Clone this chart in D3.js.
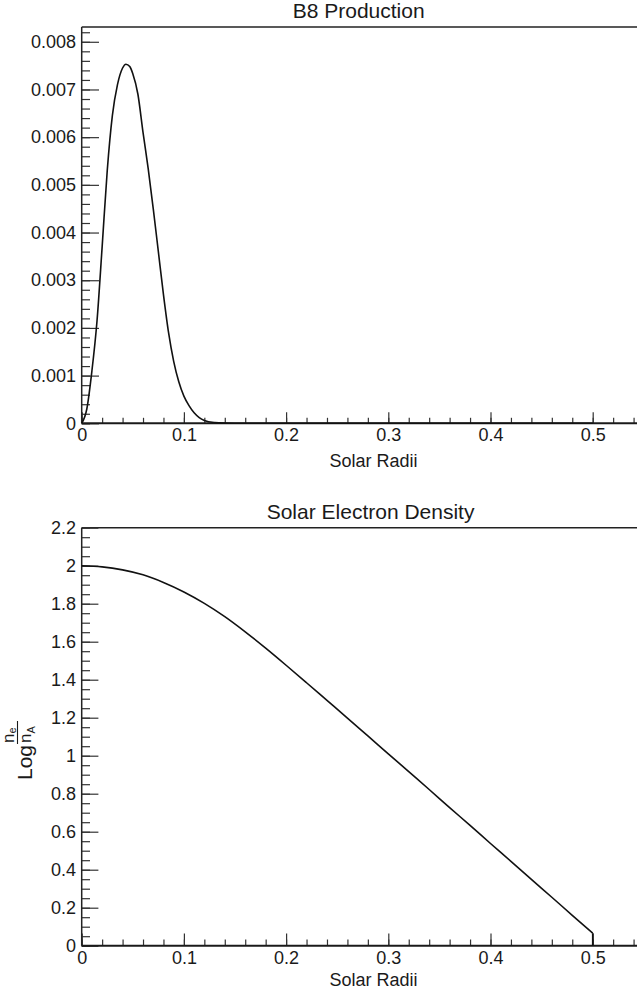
<!DOCTYPE html>
<html>
<head>
<meta charset="utf-8">
<script src="https://cdn.jsdelivr.net/npm/d3@7"></script>
<style>
  html, body { margin: 0; padding: 0; background: #fff; }
  svg { display: block; }
  text { font-family: "Liberation Sans", Arial, Helvetica, sans-serif; fill: #1a1a1a; }
</style>
</head>
<body>
<svg id="chart" width="637" height="998"></svg>
<script>
// ---------------- DATA ----------------
const b8Radius = [0, 0.005, 0.01, 0.015, 0.02, 0.025, 0.03, 0.035, 0.04, 0.0433, 0.047, 0.05, 0.055, 0.06,
  0.065, 0.07, 0.075, 0.08, 0.085, 0.09, 0.095, 0.1, 0.105, 0.11, 0.115, 0.12, 0.13, 0.14, 0.15, 0.2, 0.3, 0.4, 0.5];
const b8Production = [0, 0.0003, 0.0011, 0.00215, 0.0037, 0.0053, 0.00645, 0.0071, 0.00745, 0.00753, 0.00748, 0.00733,
  0.0069, 0.0061, 0.00535, 0.0045, 0.0036, 0.0027, 0.0019, 0.0013, 0.00087, 0.00057, 0.00037, 0.00022, 0.00012,
  0.00006, 0.000015, 0.000003, 0, 0, 0, 0, 0];

const densityRadius = [0, 0.02, 0.04, 0.06, 0.08, 0.1, 0.12, 0.14, 0.16, 0.18, 0.2, 0.22, 0.24, 0.26, 0.28, 0.3,
  0.32, 0.34, 0.36, 0.38, 0.4, 0.42, 0.44, 0.46, 0.48, 0.5, 0.5];
const logDensity = [2.0, 1.994, 1.978, 1.952, 1.912, 1.862, 1.802, 1.732, 1.652, 1.566, 1.476, 1.384, 1.291, 1.198, 1.104,
  1.01, 0.916, 0.822, 0.727, 0.633, 0.538, 0.444, 0.349, 0.255, 0.16, 0.066, 0];

const xMajorTicks = [0, 0.1, 0.2, 0.3, 0.4, 0.5];
const xMinorTicks = d3.range(0, 0.561, 0.02);
const b8MajorTicks = [0, 0.001, 0.002, 0.003, 0.004, 0.005, 0.006, 0.007, 0.008];
const b8MinorTicks = d3.range(0, 0.00831, 0.0002);
const densMajorTicks = [0, 0.2, 0.4, 0.6, 0.8, 1, 1.2, 1.4, 1.6, 1.8, 2, 2.2];
const densMinorTicks = d3.range(0, 2.201, 0.05);

const titles = ["B8 Production", "Solar Electron Density"];
const xTitle = "Solar Radii";

// ---------------- LAYOUT ----------------
const svg = d3.select("#chart");
const X0 = 81.7, X1 = 81.7 + 1022 * 0.56;

const panels = [
  { title: titles[0], titleX: 292.7, titleY: 18, yTop: 27, yBottom: 423.3, yDomain: [0, 0.00831],
    major: b8MajorTicks, minor: b8MinorTicks, fmt: d => d === 0 ? "0" : d3.format(".3f")(d),
    xTickMaj: 11, xTickMin: 5.5, yTickMaj: 17.3, yTickMin: 8.3, xTitleY: 466.5,
    xs: b8Radius, ys: b8Production, drop: false },
  { title: titles[1], titleX: 266.7, titleY: 519.3, yTop: 527.7, yBottom: 945.7, yDomain: [0, 2.2],
    major: densMajorTicks, minor: densMinorTicks, fmt: d => d3.format("~g")(+d.toFixed(1)),
    xTickMaj: 12.3, xTickMin: 6.2, yTickMaj: 16.7, yTickMin: 8.3, xTitleY: 986,
    xs: densityRadius, ys: logDensity, drop: true }
];

panels.forEach((p, i) => {
  const x = d3.scaleLinear().domain([0, 0.56]).range([X0, X1]);
  const y = d3.scaleLinear().domain(p.yDomain).range([p.yBottom, p.yTop]);
  const g = svg.append("g");

  // title
  g.append("text").attr("x", p.titleX).attr("y", p.titleY)
    .attr("font-size", 21).text(p.title);

  // frame top line
  g.append("line").attr("x1", X0).attr("x2", X1).attr("y1", p.yTop).attr("y2", p.yTop)
    .attr("stroke", "#222").attr("stroke-width", 1.4);

  // y axis minor
  const yMinor = g.append("g").attr("transform", `translate(${X0},0)`)
    .call(d3.axisLeft(y).tickValues(p.minor).tickSize(-p.yTickMin).tickSizeOuter(0).tickFormat(""));
  yMinor.select(".domain").remove();
  // y axis major
  const yAx = g.append("g").attr("transform", `translate(${X0},0)`)
    .call(d3.axisLeft(y).tickValues(p.major).tickSize(-p.yTickMaj).tickSizeOuter(0).tickPadding(5.7).tickFormat(p.fmt));
  yAx.select(".domain").remove();
  yAx.selectAll("text").attr("font-size", 18).attr("fill", "#1a1a1a")
    .attr("font-family", "Liberation Sans, Arial, sans-serif");
  [yMinor, yAx].forEach(a => a.selectAll(".tick line").attr("stroke", "#333").attr("stroke-width", 1.2));

  // x axis minor
  const xMinor = g.append("g").attr("transform", `translate(0,${p.yBottom})`)
    .call(d3.axisBottom(x).tickValues(xMinorTicks).tickSize(-p.xTickMin).tickSizeOuter(0).tickFormat(""));
  xMinor.select(".domain").remove();
  const xAx = g.append("g").attr("transform", `translate(0,${p.yBottom})`)
    .call(d3.axisBottom(x).tickValues(xMajorTicks).tickSize(-p.xTickMaj).tickSizeOuter(0).tickPadding(0)
      .tickFormat(d => d3.format("~g")(d)));
  xAx.select(".domain").remove();
  xAx.selectAll("text").attr("font-size", 18).attr("fill", "#1a1a1a").attr("dy", null).attr("y", 18.2)
    .attr("font-family", "Liberation Sans, Arial, sans-serif");
  [xMinor, xAx].forEach(a => a.selectAll(".tick line").attr("stroke", "#333").attr("stroke-width", 1.2));

  // axis lines
  g.append("line").attr("x1", X0).attr("x2", X0).attr("y1", p.yTop).attr("y2", p.yBottom)
    .attr("stroke", "#222").attr("stroke-width", 1.5);
  g.append("line").attr("x1", X0).attr("x2", X1).attr("y1", p.yBottom).attr("y2", p.yBottom)
    .attr("stroke", "#1a1a1a").attr("stroke-width", 2);

  // x title
  g.append("text").attr("x", 373.5).attr("y", p.xTitleY).attr("text-anchor", "middle")
    .attr("font-size", 18).text(xTitle);

  // curve (smooth part) + final vertical drop if present
  const pts = p.xs.map((r, k) => [r, p.ys[k]]);
  const smooth = p.drop ? pts.slice(0, -1) : pts;
  const line = d3.line().x(d => x(d[0])).y(d => y(d[1]));
  g.append("path").datum(smooth)
    .attr("fill", "none").attr("stroke", "#111").attr("stroke-width", 1.6).attr("stroke-linejoin", "round")
    .attr("d", line.curve(d3.curveMonotoneX));
  if (p.drop) {
    g.append("path").datum(pts.slice(-2))
      .attr("fill", "none").attr("stroke", "#111").attr("stroke-width", 1.6)
      .attr("d", d3.line().x(d => x(d[0])).y(d => y(d[1])));
  }
});

// y-axis title for density panel: Log n_e / n_A (rotated)
const yt = svg.append("g").attr("transform", "translate(32,780) rotate(-90)");
yt.append("text").attr("x", 0).attr("y", 0).attr("font-size", 21).text("Log");
yt.append("text").attr("x", 37).attr("y", -18).attr("font-size", 17).text("n");
yt.append("text").attr("x", 46.5).attr("y", -16.5).attr("font-size", 11).text("e");
yt.append("line").attr("x1", 36).attr("x2", 59).attr("y1", -14.5).attr("y2", -14.5)
  .attr("stroke", "#1a1a1a").attr("stroke-width", 1.1);
yt.append("text").attr("x", 37).attr("y", -1).attr("font-size", 17).text("n");
yt.append("text").attr("x", 46.5).attr("y", 3).attr("font-size", 11).text("A");
</script>
</body>
</html>
